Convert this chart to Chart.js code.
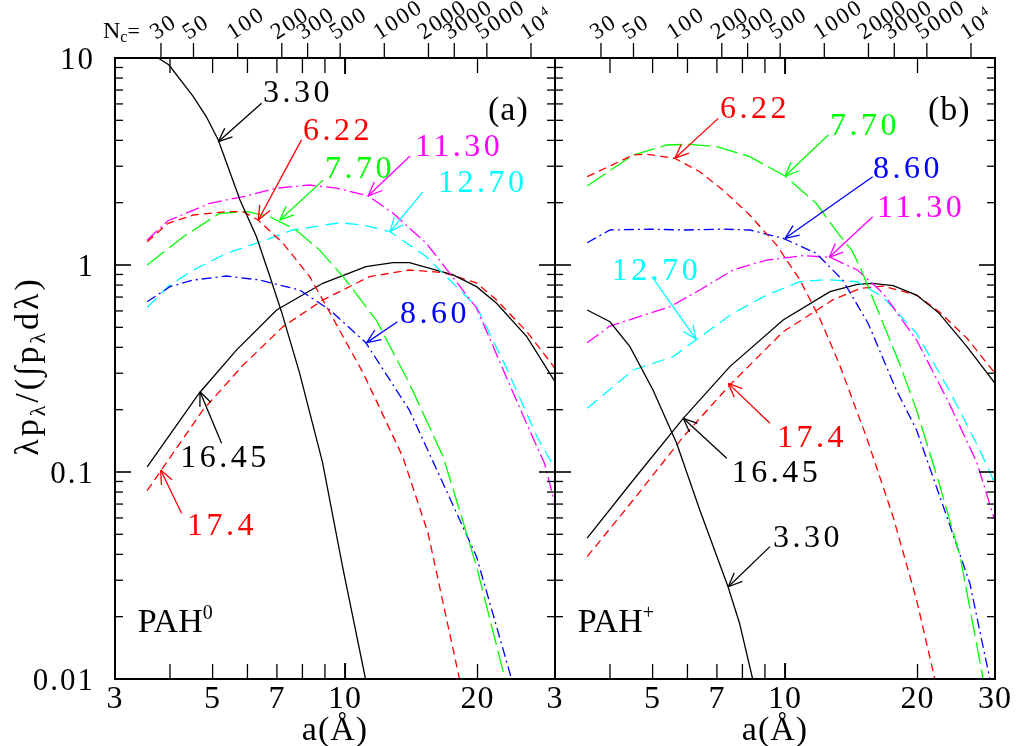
<!DOCTYPE html>
<html>
<head>
<meta charset="utf-8">
<script src="https://cdn.jsdelivr.net/npm/chart.js@4.4.1/dist/chart.umd.min.js"></script>
<style>
  body { margin: 0; background: #fff; }
  #wrap { position: relative; width: 1017px; height: 746px; }
  canvas { position: absolute; left: 0; top: 0; }
</style>
</head>
<body>
<div id="wrap">
  <canvas id="pah0" width="1017" height="746"></canvas>
  <canvas id="pahplus" width="1017" height="746"></canvas>
</div>
<script>
// band strengths vs grain radius a (Angstrom)
// panel (a): neutral PAHs
const n330 = [[3.55,10.8],[3.76,10.0],[3.98,9.25],[4.52,6.5],[4.84,5.2],[5.15,4.02],[5.77,2.06],[6.29,1.37],[6.75,0.878],[7.17,0.595],[7.88,0.301],[8.89,0.111],[9.87,0.0349],[11.13,0.01]];
const n622 = [[3.55,1.296],[3.96,1.59],[4.52,1.744],[5.38,1.81],[5.87,1.81],[6.34,1.65],[7.23,1.273],[8.31,0.878],[9.08,0.629],[9.9,0.45],[11.0,0.30],[13.52,0.1186],[15.44,0.0506],[18.2,0.01]];
const n770 = [[3.55,1.0],[4.29,1.37],[5.19,1.777],[6.0,1.81],[6.75,1.71],[7.74,1.476],[8.75,1.18],[9.9,0.878],[11.15,0.629],[11.77,0.542],[14.0,0.268],[16.7,0.1186],[18.2,0.0655],[19.9,0.0349],[23.1,0.01]];
const n860 = [[3.55,0.665],[4.0,0.786],[4.52,0.846],[5.38,0.885],[6.4,0.846],[7.88,0.757],[9.24,0.606],[11.15,0.421],[14.0,0.199],[16.7,0.088],[19.9,0.039],[23.9,0.01]];
const n1130 = [[3.55,1.32],[3.96,1.637],[4.93,1.987],[5.87,2.14],[6.99,2.35],[8.31,2.435],[9.56,2.35],[11.27,2.16],[12.86,1.777],[15.3,1.273],[17.3,0.912],[19.9,0.62],[22.9,0.31],[25.9,0.17],[28.4,0.11],[30,0.07]];
const n1270 = [[3.55,0.625],[4.0,0.80],[4.52,0.946],[5.38,1.139],[6.34,1.281],[7.61,1.476],[9.73,1.60],[11.0,1.56],[12.65,1.449],[15.3,1.097],[17.3,0.846],[19.9,0.629],[23.4,0.31],[27.3,0.148],[30,0.104]];
const n1645 = [[3.55,0.106],[4.67,0.2415],[5.67,0.389],[6.99,0.606],[8.9,0.816],[11.15,0.981],[12.86,1.026],[14.0,1.026],[17.6,0.895],[19.9,0.786],[22.1,0.653],[25.9,0.45],[30,0.273]];
const n174 = [[3.55,0.0813],[4.75,0.199],[5.87,0.329],[7.23,0.504],[8.9,0.677],[11.36,0.878],[14.0,0.946],[16.7,0.92],[19.9,0.82],[22.1,0.677],[25.9,0.476],[30,0.317]];

// panel (b): ionized PAHs
const i330 = [[3.55,0.606],[4.0,0.532],[4.44,0.403],[5.01,0.249],[5.67,0.1377],[6.4,0.0655],[7.42,0.0279],[7.88,0.0186],[8.44,0.01]];
const i622 = [[3.55,2.67],[4.52,3.40],[4.84,3.43],[5.61,3.28],[6.4,2.82],[7.23,2.30],[8.31,1.744],[9.56,1.25],[10.8,0.85],[12.0,0.55],[13.3,0.33],[15.3,0.148],[17.6,0.0608],[19.9,0.0241],[21.9,0.01]];
const i770 = [[3.55,2.41],[4.52,3.40],[5.38,3.80],[6.08,3.83],[6.99,3.73],[8.31,3.34],[10.0,2.69],[11.77,1.987],[13.2,1.42],[14.17,1.18],[14.8,0.98],[16.7,0.523],[18.2,0.334],[19.9,0.199],[22.4,0.088],[25,0.039],[28.2,0.01]];
const i860 = [[3.55,1.281],[4.0,1.476],[4.93,1.49],[5.87,1.476],[7.23,1.49],[8.31,1.476],[9.9,1.346],[11.77,1.139],[13.52,0.846],[15.44,0.523],[17.9,0.249],[19.9,0.1596],[23.6,0.0565],[26.3,0.029],[29.2,0.01]];
const i1130 = [[3.55,0.421],[4.0,0.507],[5.48,0.629],[6.4,0.757],[7.61,0.946],[9.08,1.057],[11.0,1.109],[12.65,1.09],[14.6,0.946],[16.7,0.73],[19.9,0.434],[23.6,0.215],[27.3,0.1106],[30,0.058]];
const i1270 = [[3.55,0.203],[4.52,0.311],[5.57,0.361],[6.29,0.437],[7.61,0.584],[9.08,0.716],[10.8,0.83],[12.4,0.85],[14.6,0.83],[16.7,0.70],[19.9,0.468],[23.6,0.249],[27.7,0.1277],[30,0.088]];
const i1645 = [[3.55,0.0479],[4.52,0.0915],[5.87,0.1817],[7.49,0.323],[9.9,0.542],[12.65,0.743],[14.6,0.807],[15.8,0.816],[17.6,0.795],[19.9,0.716],[22.4,0.584],[25.9,0.403],[30,0.268]];
const i174 = [[3.55,0.039],[4.52,0.0733],[5.87,0.148],[7.49,0.263],[9.9,0.476],[12.86,0.68],[14.8,0.77],[16.7,0.79],[19.9,0.716],[22.4,0.595],[25.9,0.443],[30,0.30]];

const bands = ['3.30', '6.22', '7.70', '8.60', '11.30', '12.70', '16.45', '17.4'];
const neutralSeries = [n330, n622, n770, n860, n1130, n1270, n1645, n174];
const ionSeries = [i330, i622, i770, i860, i1130, i1270, i1645, i174];

// axis ticks
const aMinorTicks = [4, 5, 6, 7, 8, 9, 20];
const aMajorTicks = [10];
const aLabelsA = [3, 5, 7, 10, 20];
const aLabelsB = [3, 5, 7, 10, 20, 30];
const yMajorTicks = [0.1, 1];
const yMinorTicks = [0.02,0.03,0.04,0.05,0.06,0.07,0.08,0.09,0.2,0.3,0.4,0.5,0.6,0.7,0.8,0.9,2,3,4,5,6,7,8,9];
const yLabelValues = [10, 1, 0.1, 0.01];
const yLabelText = ['10', '1', '0.1', '0.01'];
const carbonTicks = [30, 50, 100, 200, 300, 500, 1000, 2000, 3000, 5000, 10000];
const carbonText = ['30', '50', '100', '200', '300', '500', '1000', '2000', '3000', '5000', '10'];

// labels: text position [a, y], arrow tail, arrow head (on the curve)
const notesA = [
  {band: '3.30', at: [6.51, 6.13], tail: [6.46, 6.04], head: [5.15, 3.94]},
  {band: '6.22', at: [8.02, 4.02], tail: [7.96, 4.02], head: [6.35, 1.65]},
  {band: '7.70', at: [9.0, 2.63], tail: [8.92, 2.57], head: [7.11, 1.65]},
  {band: '11.30', at: [14.42, 3.36], tail: [14.05, 3.36], head: [11.29, 2.16]},
  {band: '12.70', at: [16.26, 2.25], tail: [15.01, 2.25], head: [12.65, 1.449]},
  {band: '8.60', at: [13.33, 0.5246], tail: [13.15, 0.532], head: [11.2, 0.4218]},
  {band: '16.45', at: [4.22, 0.1057], tail: [5.24, 0.1376], head: [4.68, 0.2443]},
  {band: '17.4', at: [4.37, 0.0496], tail: [4.25, 0.0632], head: [3.81, 0.1023]}
];
const notesB = [
  {band: '6.22', at: [7.11, 5.13], tail: [7.05, 5.11], head: [5.62, 3.28]},
  {band: '7.70', at: [12.65, 4.25], tail: [12.54, 4.25], head: [10.0, 2.69]},
  {band: '8.60', at: [15.84, 2.63], tail: [15.82, 2.67], head: [10.0, 1.346]},
  {band: '11.30', at: [16.18, 1.705], tail: [15.82, 1.711], head: [12.6, 1.089]},
  {band: '12.70', at: [4.04, 0.846], tail: [4.98, 0.878], head: [6.28, 0.4376]},
  {band: '17.4', at: [9.59, 0.132], tail: [9.24, 0.172], head: [7.43, 0.268]},
  {band: '16.45', at: [7.57, 0.0894], tail: [7.37, 0.1165], head: [5.87, 0.1817]},
  {band: '3.30', at: [9.39, 0.0434], tail: [9.24, 0.0436], head: [7.43, 0.0279]}
];

const bandColor = {'3.30': '#000000', '6.22': '#ff0000', '7.70': '#00ff00', '8.60': '#0000ff',
  '11.30': '#ff00ff', '12.70': '#00ffff', '16.45': '#000000', '17.4': '#ff0000'};
const bandDash = {'3.30': [], '6.22': [8, 5], '7.70': [22, 6], '8.60': [10, 4, 2, 4],
  '11.30': [14, 4, 2, 4], '12.70': [13, 7], '16.45': [], '17.4': [8, 5]};

const SERIF = '"Liberation Serif", "DejaVu Serif", serif';

function carbonToA(n) {
  return 1.228 * Math.cbrt(n);
}

function drawRich(ctx, segs, x, y, align, spacing) {
  ctx.letterSpacing = (spacing || 0) + 'px';
  let total = 0;
  segs.forEach(s => {
    ctx.font = s.size + 'px ' + SERIF;
    s.w = ctx.measureText(s.t).width;
    total += s.w;
  });
  let cx = x;
  if (align === 'center') cx = x - total / 2;
  if (align === 'right') cx = x - total;
  ctx.textAlign = 'left';
  ctx.textBaseline = 'alphabetic';
  segs.forEach(s => {
    ctx.font = s.size + 'px ' + SERIF;
    ctx.fillText(s.t, cx, y + (s.dy || 0));
    cx += s.w;
  });
  ctx.letterSpacing = '0px';
}

function line(ctx, x1, y1, x2, y2) {
  ctx.beginPath();
  ctx.moveTo(x1, y1);
  ctx.lineTo(x2, y2);
  ctx.stroke();
}

const framePlugin = {
  id: 'pahFrame',
  afterDatasetsDraw(chart, args, opts) {
    const ctx = chart.ctx;
    const xs = chart.scales.x;
    const ys = chart.scales.y;
    const area = chart.chartArea;
    ctx.save();
    ctx.strokeStyle = '#000';
    ctx.fillStyle = '#000';
    ctx.setLineDash([]);

    // y ticks, both sides, pointing in
    ctx.lineWidth = 1.3;
    yMinorTicks.forEach(v => {
      const y = ys.getPixelForValue(v);
      line(ctx, area.left, y, area.left + 8, y);
      line(ctx, area.right, y, area.right - 8, y);
    });
    ctx.lineWidth = 1.6;
    yMajorTicks.forEach(v => {
      const y = ys.getPixelForValue(v);
      line(ctx, area.left, y, area.left + 16, y);
      line(ctx, area.right, y, area.right - 16, y);
    });

    // a ticks, top and bottom, pointing in
    ctx.lineWidth = 1.3;
    aMinorTicks.forEach(v => {
      const x = xs.getPixelForValue(v);
      line(ctx, x, area.bottom, x, area.bottom - 15);
      line(ctx, x, area.top, x, area.top + 15);
    });
    ctx.lineWidth = 2;
    aMajorTicks.forEach(v => {
      const x = xs.getPixelForValue(v);
      line(ctx, x, area.bottom, x, area.bottom - 16);
      line(ctx, x, area.top, x, area.top + 16);
    });

    // carbon-number ticks above the frame
    ctx.lineWidth = 1.3;
    carbonTicks.forEach((n, i) => {
      const x = xs.getPixelForValue(carbonToA(n));
      line(ctx, x, area.top, x, area.top - 15);
      ctx.save();
      ctx.translate(x - 5, area.top - 18);
      ctx.rotate(-33 * Math.PI / 180);
      const segs = [{t: carbonText[i], size: 23}];
      if (n === 10000) segs.push({t: '4', size: 14, dy: -10});
      drawRich(ctx, segs, 0, 0, 'left', 2);
      ctx.restore();
    });

    // frame
    ctx.lineWidth = 2;
    ctx.strokeRect(area.left, area.top, area.right - area.left, area.bottom - area.top);

    // bottom tick labels and axis title
    opts.aLabels.forEach(v => {
      drawRich(ctx, [{t: String(v), size: 32}], xs.getPixelForValue(v), area.bottom + 29, 'center', 1);
    });
    drawRich(ctx, [{t: 'a(Å)', size: 34}], (area.left + area.right) / 2, area.bottom + 61, 'center', 1);

    if (opts.leftAxis) {
      yLabelValues.forEach((v, i) => {
        drawRich(ctx, [{t: yLabelText[i], size: 31}], area.left - 20, ys.getPixelForValue(v) + 11, 'right', 2);
      });
      ctx.save();
      ctx.translate(38, 366);
      ctx.rotate(-Math.PI / 2);
      drawRich(ctx, [
        {t: 'λp', size: 34}, {t: 'λ', size: 22, dy: 7}, {t: '/(∫p', size: 34},
        {t: 'λ', size: 22, dy: 7}, {t: 'dλ)', size: 34}
      ], 0, 0, 'center', 3);
      ctx.restore();
      drawRich(ctx, [{t: 'N', size: 24}, {t: 'c', size: 16, dy: 4}, {t: '=', size: 22}], 103, area.top - 20, 'left', 0);
    }

    // band labels with arrows
    opts.notes.forEach(n => {
      const c = bandColor[n.band];
      ctx.strokeStyle = c;
      ctx.fillStyle = c;
      ctx.lineWidth = 1.3;
      const tx = xs.getPixelForValue(n.tail[0]), ty = ys.getPixelForValue(n.tail[1]);
      const hx = xs.getPixelForValue(n.head[0]), hy = ys.getPixelForValue(n.head[1]);
      line(ctx, tx, ty, hx, hy);
      const ang = Math.atan2(ty - hy, tx - hx);
      [0.4, -0.4].forEach(d => {
        line(ctx, hx, hy, hx + 15 * Math.cos(ang + d), hy + 15 * Math.sin(ang + d));
      });
      drawRich(ctx, [{t: n.band, size: 32}], xs.getPixelForValue(n.at[0]), ys.getPixelForValue(n.at[1]), 'left', 3.5);
    });

    // panel tag and PAH type
    ctx.fillStyle = '#000';
    drawRich(ctx, [{t: opts.tag, size: 34}], xs.getPixelForValue(opts.tagAt[0]), ys.getPixelForValue(opts.tagAt[1]), 'left', 1);
    drawRich(ctx, [{t: 'PAH', size: 34}, {t: opts.charge, size: 20, dy: -13}],
      xs.getPixelForValue(opts.pahAt[0]), ys.getPixelForValue(opts.pahAt[1]), 'left', 0);
    ctx.restore();
  }
};

function buildDatasets(series) {
  return series.map((pts, i) => ({
    label: bands[i],
    data: pts.map(p => ({x: p[0], y: p[1]})),
    borderColor: bandColor[bands[i]],
    borderDash: bandDash[bands[i]],
    borderWidth: 1.3,
    pointRadius: 0,
    tension: 0,
    fill: false
  }));
}

function makePanel(id, series, padLeft, padRight, extra) {
  return new Chart(document.getElementById(id), {
    type: 'line',
    data: {datasets: buildDatasets(series)},
    options: {
      responsive: false,
      animation: false,
      layout: {padding: {left: padLeft, right: padRight, top: 58, bottom: 67}},
      scales: {
        x: {type: 'logarithmic', min: 3, max: 30, display: false},
        y: {type: 'logarithmic', min: 0.01, max: 10, display: false}
      },
      plugins: {
        legend: {display: false},
        tooltip: {enabled: false},
        pahFrame: extra
      }
    },
    plugins: [framePlugin]
  });
}

makePanel('pah0', neutralSeries, 115, 462, {
  notes: notesA, aLabels: aLabelsA, leftAxis: true,
  tag: '(a)', tagAt: [21.13, 5.02], charge: '0', pahAt: [3.38, 0.01686]
});
makePanel('pahplus', ionSeries, 555, 22, {
  notes: notesB, aLabels: aLabelsB, leftAxis: false,
  tag: '(b)', tagAt: [21.13, 5.02], charge: '+', pahAt: [3.38, 0.01686]
});
</script>
</body>
</html>
